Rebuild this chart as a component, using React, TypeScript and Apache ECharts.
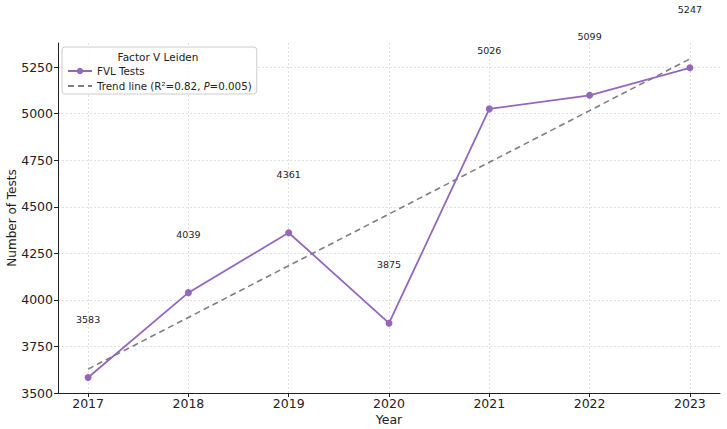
import React, { useEffect, useRef } from "react";
import * as echarts from "echarts";

const years = [2017, 2018, 2019, 2020, 2021, 2022, 2023];
const tests = [3583, 4039, 4361, 3875, 5026, 5099, 5247];
const yTicks = [3500, 3750, 4000, 4250, 4500, 4750, 5000, 5250];
const legendTitle = "Factor V Leiden";
const seriesName = "FVL Tests";
const trendName = "Trend line (R²=0.82, P=0.005)";

// least-squares trend line from the data
function trend(xs: number[], ys: number[]) {
  const n = xs.length;
  const mx = xs.reduce((a, b) => a + b, 0) / n;
  const my = ys.reduce((a, b) => a + b, 0) / n;
  let sxy = 0, sxx = 0;
  for (let i = 0; i < n; i++) {
    sxy += (xs[i] - mx) * (ys[i] - my);
    sxx += (xs[i] - mx) * (xs[i] - mx);
  }
  const b = sxy / sxx;
  const a = my - b * mx;
  return xs.map((x) => [x, a + b * x]);
}

export default function App() {
  const ref = useRef<HTMLDivElement>(null);
  useEffect(() => {
    if (!ref.current) return;
    const chart = echarts.init(ref.current, null, { renderer: "svg" });
    const font = "DejaVu Sans";
    chart.setOption({
      animation: false,
      textStyle: { fontFamily: font },
      grid: { left: 58, right: 7, top: 43, bottom: 36, containLabel: false, outerBoundsMode: "none" },
      xAxis: {
        type: "value",
        min: 2016.7,
        max: 2023.3,
        name: "Year",
        nameLocation: "middle",
        nameGap: 20,
        nameMoveOverlap: false,
        nameTextStyle: { fontSize: 12.5, color: "#222", fontFamily: font },
        axisLine: { show: true, lineStyle: { color: "#222", width: 1 } },
        axisTick: { show: true, length: 4, lineStyle: { color: "#222" }, customValues: years },
        axisLabel: {
          customValues: years,
          fontSize: 12.5,
          color: "#222",
          margin: 4,
          fontFamily: font,
          formatter: (v: number) => String(v),
        },
        splitLine: { show: true, lineStyle: { color: "#d9d9d9", type: [2, 2], width: 0.8 } },
      },
      yAxis: {
        type: "value",
        min: 3500,
        max: 5380,
        interval: 250,
        name: "Number of Tests",
        nameLocation: "middle",
        nameGap: 40,
        nameMoveOverlap: false,
        nameTextStyle: { fontSize: 12, color: "#222", fontFamily: font },
        axisLine: { show: true, lineStyle: { color: "#222", width: 1 } },
        axisTick: { show: true, length: 4, lineStyle: { color: "#222" }, customValues: yTicks },
        axisLabel: {
          customValues: yTicks,
          fontSize: 12.5,
          color: "#222",
          margin: 5,
          fontFamily: font,
          formatter: (v: number) => String(v),
        },
        splitLine: { show: true, lineStyle: { color: "#d9d9d9", type: [2, 2], width: 0.8 } },
      },
      legend: {
        orient: "vertical",
        left: 62,
        top: 47,
        padding: [19, 5, 3, 5],
        itemGap: 5,
        itemWidth: 24,
        itemHeight: 8,
        backgroundColor: "rgba(255,255,255,0.85)",
        borderColor: "#cccccc",
        borderWidth: 1,
        borderRadius: 3,
        textStyle: {
          fontSize: 10.3,
          color: "#222",
          fontFamily: font,
          rich: { i: { fontStyle: "italic", fontSize: 9.8, color: "#222", fontFamily: font } },
        },
        formatter: (name: string) =>
          name === trendName ? "Trend line (R²=0.82, {i|P}=0.005)" : name,
        data: [
          { name: seriesName },
          { name: trendName, itemStyle: { opacity: 0 } },
        ],
      },
      graphic: [
        {
          type: "text",
          x: 158,
          y: 57,
          z: 100,
          style: {
            text: legendTitle,
            fontSize: 10.5,
            fill: "#222",
            fontFamily: font,
            textAlign: "center",
            textVerticalAlign: "middle",
          },
        },
      ],
      series: [
        {
          name: seriesName,
          type: "line",
          data: years.map((y, i) => [y, tests[i]]),
          color: "#9467bd",
          lineStyle: { color: "#9467bd", width: 1.8 },
          symbol: "circle",
          symbolSize: 7,
          itemStyle: { color: "#9467bd" },
          label: {
            show: true,
            position: "top",
            distance: 50,
            fontSize: 9.5,
            color: "#222",
            fontFamily: font,
          },
          z: 3,
        },
        {
          name: trendName,
          type: "line",
          data: trend(years, tests),
          color: "#7f7f7f",
          lineStyle: { color: "#7f7f7f", width: 1.6, type: [6, 4] },
          symbol: "none",
          z: 2,
        },
      ],
    });
    return () => chart.dispose();
  }, []);
  return <div ref={ref} style={{ width: 727, height: 429, position: "absolute", left: 0, top: 0 }} />;
}
